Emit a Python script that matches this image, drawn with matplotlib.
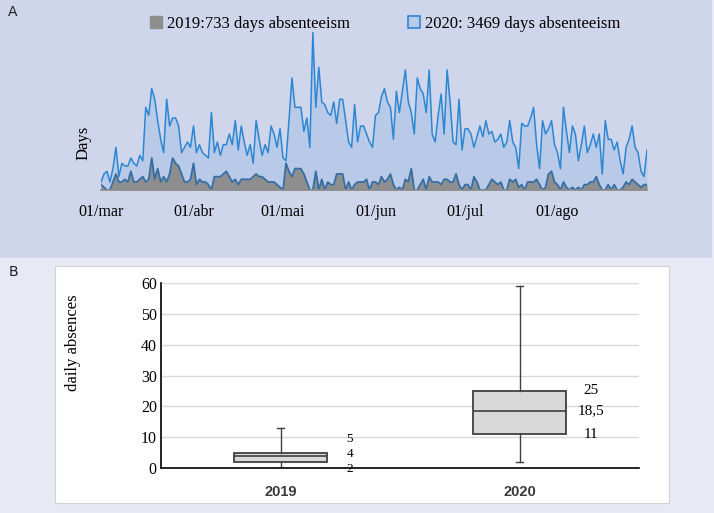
import numpy as np
import matplotlib.pyplot as plt
from matplotlib.patches import Rectangle, Patch

# Absenteeism per day, 01/mar to 31/ago (184 days)
abs_2020 = [
    3, 6, 7, 3, 8, 16, 5, 10, 9, 9, 12, 10, 9, 13, 11, 31, 28, 38, 34, 26,
    19, 14, 34, 24, 27, 27, 24, 14, 16, 18, 16, 24, 14, 17, 14, 13, 12, 29, 14, 18,
    13, 17, 17, 21, 17,
    26, 15, 24, 18, 13, 17, 10, 26, 19, 13, 17, 14, 24, 21, 16, 23, 12, 11, 26, 42,
    31, 31, 31, 22, 27, 16, 59, 31, 46, 33, 32, 29, 28, 33, 25, 34, 34, 26, 18, 16,
    32, 18, 24, 24, 21, 18, 16, 28, 29,
    35, 38, 33, 31, 19, 37, 29, 37, 45, 33, 29, 21, 42, 38, 36, 29, 45, 21, 18, 28,
    36, 21, 45, 33, 18, 17, 34, 15, 23, 23, 21, 16, 20, 24, 20, 26, 21, 22, 18, 19,
    21, 16, 18, 26, 18, 16, 8,
    25, 24, 24, 27, 31, 17, 8, 26, 21, 23, 26, 17, 14, 8, 31, 22, 14, 24, 21, 11,
    17, 24, 14, 17, 21, 16, 21, 6, 26, 19, 19, 15, 18, 11, 6, 16, 19, 24, 16, 14,
    7, 5, 15,
]
abs_2019 = [
    2, 1, 0, 0, 3, 6, 3, 3, 4, 3, 7, 3, 3, 4, 5, 3, 4, 12, 4, 8,
    3, 5, 3, 6, 12, 10, 9, 6, 3, 3, 4, 10, 2, 4, 3, 3, 2, 0, 5, 5,
    5, 6, 7, 5, 3,
    4, 2, 4, 4, 4, 4, 5, 6, 5, 5, 4, 3, 3, 3, 2, 1, 0, 10, 7, 5,
    8, 8, 8, 6, 3, 0, 0, 7, 0, 4, 0, 3, 2, 2, 6, 6, 6, 0, 3, 0,
    2, 3, 3, 3, 4, 0, 3, 3, 2,
    5, 3, 4, 6, 2, 0, 1, 0, 4, 3, 8, 0, 0, 2, 4, 0, 5, 3, 3, 3,
    2, 4, 4, 3, 3, 6, 2, 0, 2, 2, 0, 5, 3, 0, 0, 0, 2, 4, 3, 2,
    3, 0, 0, 4, 3, 4, 1,
    2, 0, 3, 3, 3, 4, 2, 0, 1, 6, 7, 3, 2, 0, 3, 1, 0, 1, 0, 1,
    0, 2, 2, 3, 3, 5, 2, 0, 0, 2, 0, 2, 0, 0, 1, 3, 2, 4, 3, 2,
    1, 2, 2,
]
month_days = [0, 31, 61, 92, 122, 153]
month_labels = ['01/mar', '01/abr', '01/mai', '01/jun', '01/jul', '01/ago']
legend_labels = ['2019:733 days absenteeism', '2020: 3469 days absenteeism']

# Panel B : box plot summary
years = ['2019', '2020']
q_low = [0, 2]
q1 = [2, 11]
q_med = [4, 18.5]
q3 = [5, 25]
q_high = [13, 59]
box_labels = [['5', '4', '2'], ['25', '18,5', '11']]

W, H = 714, 513
serif = 'Liberation Serif'

fig = plt.figure(figsize=(W / 100, H / 100), dpi=100, facecolor='#e7eaf5')

# fonds des deux panneaux
fig.add_artist(Rectangle((0, 1 - 258 / H), 712 / W, 258 / H, transform=fig.transFigure,
                         facecolor='#cfd5ea', edgecolor='none', zorder=-5))
fig.add_artist(Rectangle((55 / W, 1 - 503 / H), 614 / W, 237 / H, transform=fig.transFigure,
                         facecolor='white', edgecolor='#d3d3d3', lw=0.8, zorder=-5))

# ---- Panel A : area chart
days = np.arange(len(abs_2020))
axA = fig.add_axes([101 / W, 1 - 190 / H, 546 / W, 160 / H])
axA.set_facecolor('none')
axA.fill_between(days, abs_2020, color='#b9c9e8', lw=0)
axA.plot(days, abs_2020, color='#2b87d3', lw=1.1)
axA.fill_between(days, abs_2019, color='#8e8e8e', lw=0)
axA.plot(days, abs_2019, color='#356ea3', lw=1.3)
axA.set_xlim(0, len(abs_2020) - 1)
axA.set_ylim(0, 60)
axA.set_yticks([])
axA.set_xticks(month_days)
axA.set_xticklabels(month_labels, fontfamily=serif, fontsize=11.5)
axA.tick_params(axis='x', length=0, pad=10)
for s in ['top', 'right', 'left']:
    axA.spines[s].set_visible(False)
axA.spines['bottom'].set_color('#8c8c8c')
axA.spines['bottom'].set_linewidth(1.2)

fig.text(84 / W, 1 - 143 / H, 'Days', rotation=90, ha='center', va='center',
         fontfamily=serif, fontsize=12)

handles = [Patch(facecolor='#8e8e8e', edgecolor='#8e8e8e'),
           Patch(facecolor='#b9c9e8', edgecolor='#2b87d3', lw=1.2)]
fig.legend(handles, legend_labels, loc='center', bbox_to_anchor=(385 / W, 1 - 24 / H),
           ncol=2, frameon=False, prop={'family': serif, 'size': 12},
           handlelength=0.7, handleheight=0.7, handletextpad=0.3, columnspacing=3.5)

# ---- Panel B : boxplot
axB = fig.add_axes([161 / W, 1 - 468 / H, 478 / W, 185 / H])
axB.set_facecolor('none')
stats = [{'label': years[i], 'whislo': q_low[i], 'q1': q1[i], 'med': q_med[i],
          'q3': q3[i], 'whishi': q_high[i], 'fliers': []} for i in range(2)]
axB.bxp(stats, positions=[1, 2], widths=0.39, capwidths=0.03, patch_artist=True,
        showfliers=False,
        boxprops={'facecolor': '#d9d9d9', 'edgecolor': '#404040', 'lw': 1.3},
        medianprops={'color': '#404040', 'lw': 1.2},
        whiskerprops={'color': '#404040', 'lw': 1.0},
        capprops={'color': '#404040', 'lw': 1.0})
axB.set_xlim(0.5, 2.5)
axB.set_ylim(0, 60)
axB.set_yticks(np.arange(0, 61, 10))
axB.set_yticklabels([str(v) for v in range(0, 61, 10)], fontfamily=serif, fontsize=11.5)
axB.set_xticklabels(years, fontfamily='Liberation Sans', fontsize=10.5,
                    fontweight='bold', color='#3a3a3a')
axB.tick_params(axis='y', length=0, pad=3)
axB.tick_params(axis='x', length=0, pad=12)
axB.yaxis.grid(True, color='#d9d9d9', lw=1)
axB.set_axisbelow(True)
axB.spines['top'].set_visible(False)
axB.spines['right'].set_visible(False)
axB.spines['left'].set_linewidth(1.2)
axB.spines['bottom'].set_linewidth(1.2)

# valeurs des quartiles (2019 décalées pour ne pas se chevaucher)
label_y = [[9.4, 4.6, -0.2], [q3[1], q_med[1], q1[1]]]
label_x = [1.29, 2.30]
label_size = [9.5, 11]
for i in range(2):
    for txt, yy in zip(box_labels[i], label_y[i]):
        axB.text(label_x[i], yy, txt, ha='center', va='center', fontfamily=serif,
                 fontsize=label_size[i], clip_on=False)

fig.text(73 / W, 1 - 343 / H, 'daily absences', rotation=90, ha='center', va='center',
         fontfamily=serif, fontsize=12)

fig.text(13 / W, 1 - 12 / H, 'A', ha='center', va='center', fontsize=10, color='#222222')
fig.text(13 / W, 1 - 272 / H, 'B', ha='center', va='center', fontsize=10, color='#222222')

plt.savefig('out.png', dpi=100, facecolor=fig.get_facecolor())
